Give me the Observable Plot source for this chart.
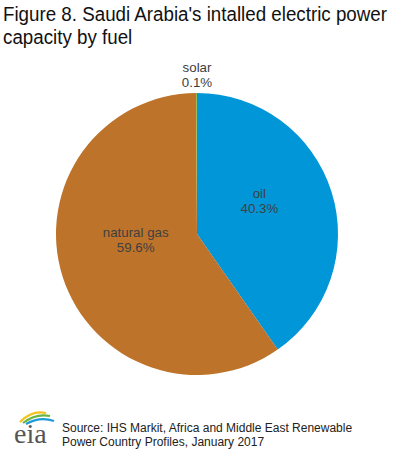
<!DOCTYPE html>
<html>
<head>
<meta charset="utf-8">
<script src="https://cdn.jsdelivr.net/npm/d3@7"></script>
<script src="https://cdn.jsdelivr.net/npm/@observablehq/plot@0.6"></script>
<style>
  body { margin: 0; background: #fff; width: 397px; height: 450px; overflow: hidden; position: relative; font-family: Arial, "Liberation Sans", sans-serif; }
  #title { position: absolute; left: 3px; top: 3px; font-size: 20px; line-height: 23px; color: #111; white-space: nowrap; transform-origin: 0 0; }
  #chart { position: absolute; left: 0; top: 56px; }
  #logo { position: absolute; left: 6px; top: 404px; }
  #source { position: absolute; left: 62px; top: 421px; font-size: 12px; line-height: 14px; color: #222; white-space: nowrap; }
</style>
</head>
<body>
<div id="title"><span id="t1">Figure 8. Saudi Arabia's intalled electric power</span><br>capacity by fuel</div>
<div id="chart"></div>
<svg id="logo" width="54" height="46" viewBox="0 0 54 46">
  <path d="M14 18 Q26 6 40 9" fill="none" stroke="#f4c21b" stroke-width="2.2"/>
  <path d="M17 19 Q30 9 44 12" fill="none" stroke="#6cb33f" stroke-width="2.2"/>
  <path d="M20 20 Q34 12 48 17" fill="none" stroke="#1f9bd7" stroke-width="2.2"/>
  <text x="8" y="39" font-family="'Liberation Serif', 'DejaVu Serif', serif" font-size="28" fill="#555">eia</text>
</svg>
<div id="source">Source: IHS Markit, Africa and Middle East Renewable<br>Power Country Profiles, January 2017</div>
<script>
// fit the title's first line to the reference width
{
  const t1 = document.getElementById("t1");
  const w = t1.getBoundingClientRect().width;
  const target = 384;
  if (w > target) document.getElementById("title").style.transform = `scaleX(${target / w})`;
}

const fuels = ["oil", "natural gas", "solar"];
const shares = [40.3, 59.6, 0.1];
const colors = ["#0096d7", "#bd732a", "#8db33a"];

const data = fuels.map((f, i) => ({fuel: f, share: shares[i], color: colors[i]}));
const pie = d3.pie().sort(null).value(d => d.share)(data);

// label positions in unit-circle data space
const labels = pie.map(p => {
  const mid = (p.startAngle + p.endAngle) / 2;
  const outside = p.data.share < 1;
  const rr = outside ? 1.13 : 0.46;
  return {
    x: rr * Math.sin(mid),
    y: rr * Math.cos(mid),
    text: p.data.fuel + "\n" + p.data.share.toFixed(1) + "%",
    outside
  };
});

const cx = 197, cy = 178, R = 141;

function slices(index, scales) {
  const x0 = scales.x(0), y0 = scales.y(0);
  const r = Math.abs(scales.x(1) - scales.x(0));
  const g = d3.create("svg:g").attr("transform", `translate(${x0},${y0})`);
  const arc = d3.arc().innerRadius(0).outerRadius(r);
  g.selectAll("path").data(pie).join("path")
    .attr("d", arc)
    .attr("fill", d => d.data.color);
  return g.node();
}

const chart = Plot.plot({
  width: 397,
  height: 340,
  margin: 0,
  x: {domain: [-1, 1], range: [cx - R, cx + R], axis: null},
  y: {domain: [-1, 1], range: [cy + R, cy - R], axis: null},
  style: {fontFamily: "Arial, 'Liberation Sans', sans-serif", background: "#fff"},
  marks: [
    slices,
    Plot.text(labels.filter(d => !d.outside), {
      x: "x", y: "y", text: "text", dy: -14,
      fontSize: 13.3, lineHeight: 1.13, fill: "#404040"
    }),
    Plot.text(labels.filter(d => d.outside), {
      x: "x", y: "y", text: "text",
      fontSize: 13.3, lineHeight: 1.13, fill: "#404040"
    })
  ]
});
document.getElementById("chart").appendChild(chart);
</script>
</body>
</html>
